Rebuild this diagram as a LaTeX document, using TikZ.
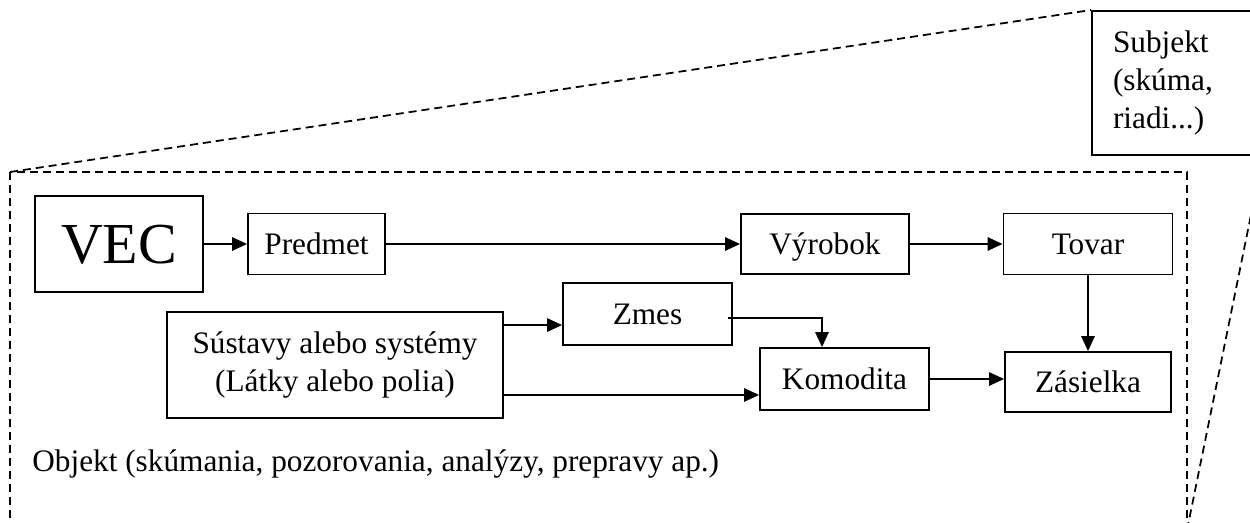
\documentclass[tikz,border=0pt]{standalone}
\usepackage{fontspec}
\setmainfont{Liberation Serif}
\usetikzlibrary{arrows.meta,positioning,calc}
\tikzset{
  plain/.style={draw, line width=1.1pt, minimum width=3.38cm, minimum height=1.22cm,
              inner sep=2pt, font=\fontsize{17.8}{21.6}\selectfont},
  box/.style={plain, text height=11.7pt, text depth=0pt},
  flow/.style={-{Triangle[length=0.3cm,width=0.27cm]}, line width=0.9pt},
  frame/.style={dash pattern=on 0.16cm off 0.1cm, line width=1pt},
}

\begin{document}
\begin{tikzpicture}
    \useasboundingbox (0,0) rectangle (25,10.44);
    \clip (0,0) rectangle (25,10.44);
    \node[box,minimum width=3.36cm,minimum height=1.92cm,text height=21.8pt,font=\fontsize{33}{36}\selectfont] (vec) at (2.38,5.56) {VEC};
    \node[box,minimum width=2.74cm] (predmet) at (6.33,5.56) {Predmet};
    \node[box,minimum width=3.36cm,minimum height=1.2cm] (vyrobok) at (16.5,5.56) {Výrobok};
    \node[box] (tovar) at (21.76,5.56) {Tovar};
    \node[box,minimum height=1.24cm] (zmes) at (12.95,4.16) {Zmes};
    \node[plain,align=center,minimum width=6.72cm,minimum height=2.12cm] (sust) at (6.7,3.14) {Sústavy alebo systémy\\(Látky alebo polia)};
    \node[box,minimum height=1.24cm] (komo) at (16.89,2.86) {Komodita};
    \node[box,minimum width=3.32cm,minimum height=1.2cm] (zas) at (21.76,2.8) {Zásielka};
    \node[plain,minimum height=2.88cm,text width=2.56cm,inner xsep=0.42cm,align=left] (subj) at (23.54,8.78) {Subjekt\\(skúma,\\riadi...)};
    \node[font=\fontsize{17.8}{21.6}\selectfont,anchor=base west,inner sep=0pt] (obj) at (0.64,1.02) {Objekt (skúmania, pozorovania, analýzy, prepravy ap.)};
    \coordinate (ftl) at (0.2,7.0);
    \coordinate (fbr) at (23.74,-0.16);
    \draw[frame] (ftl) rectangle (fbr);
    \draw[frame] (ftl) -- (subj.north west);
    \draw[frame] (fbr) -- (subj.south east);
    \draw[flow] (vec) -- (predmet);
    \draw[flow] (predmet) -- (vyrobok);
    \draw[flow] (vyrobok) -- (tovar);
    \draw[flow] (tovar) -- (zas);
    \draw[flow] ([yshift=-0.28cm]sust.north east) coordinate (s1) -- (s1 -| zmes.west);
    \draw[flow] ([yshift=0.48cm]sust.south east) coordinate (s2) -- (s2 -| komo.west);
    \draw[flow] ([xshift=-0.1cm,yshift=-0.08cm]zmes.east) -| ([xshift=-0.45cm]komo.north);
    \draw[flow] (komo.east) -- (komo.east -| zas.west);
  \end{tikzpicture}
\end{document}
